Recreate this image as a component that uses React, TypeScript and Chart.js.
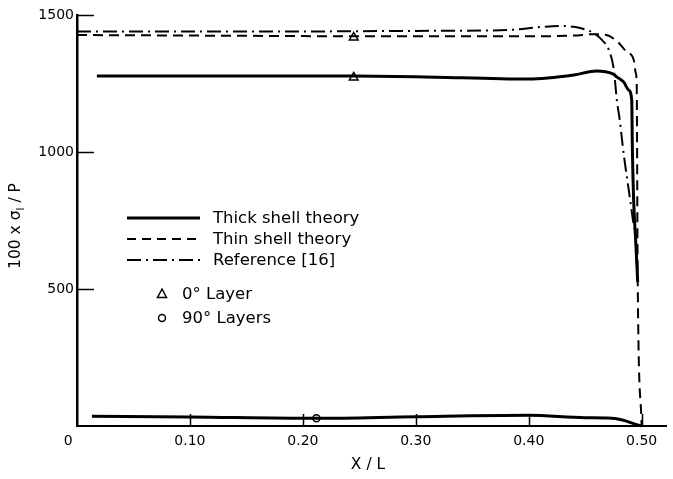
import React, { useEffect, useRef } from "react";
import { Chart, registerables } from "chart.js";

Chart.register(...registerables);

// Thick shell theory, 0° layer
const thickX = [0.0176, 0.1, 0.2, 0.245, 0.3, 0.4, 0.44, 0.46, 0.4745, 0.478, 0.4842, 0.4885, 0.4912, 0.4918, 0.4929, 0.4947, 0.4965];
const thickY = [1277, 1277, 1277, 1277, 1275, 1266, 1281, 1296, 1285, 1274, 1255, 1226, 1190, 1007, 825, 679, 526];

// Thick shell theory, 90° layers
const thick90X = [0.0132, 0.1, 0.212, 0.3, 0.4, 0.45, 0.47, 0.483, 0.494, 0.5];
const thick90Y = [36, 33, 28, 34, 39, 30, 29, 22, 7, 0];

// Thin shell theory
const thinX = [0, 0.1, 0.2, 0.3, 0.4, 0.44, 0.458, 0.468, 0.478, 0.4868, 0.493, 0.4947, 0.4956, 0.4965, 0.5];
const thinY = [1427, 1425, 1423, 1422, 1422, 1425, 1430, 1428, 1405, 1365, 1336, 1290, 1250, 533, 0];

// Reference [16]
const refX = [0, 0.1, 0.2, 0.3, 0.381, 0.41, 0.428, 0.44, 0.4516, 0.4577, 0.4648, 0.471, 0.4754, 0.478, 0.4806, 0.4842, 0.4886, 0.492, 0.4947, 0.4965];
const refY = [1440, 1440, 1440, 1442, 1445, 1456, 1460, 1457, 1445, 1434, 1409, 1372, 1299, 1190, 1117, 989, 861, 760, 679, 526];

// Layer markers
const layer0X = [0.245, 0.245];
const layer0Y = [1418, 1272];
const layer90X = [0.212];
const layer90Y = [28];

// Axis ticks
const xTicks = [0, 0.1, 0.2, 0.3, 0.4, 0.5];
const xTickLabels = ["0    ", "0.10", "0.20", "0.30", "0.40", "0.50"];
const yTicks = [500, 1000, 1500];
const yTickLabels = ["500", "1000", "1500"];

// Legend entries
const legendLines = [
  { label: "Thick shell theory", dash: [] as number[], width: 3 },
  { label: "Thin shell theory", dash: [9, 6], width: 2 },
  { label: "Reference [16]", dash: [14, 5, 2, 5], width: 2 },
];
const legendMarkers = [
  { label: "0° Layer", style: "triangle" },
  { label: "90° Layers", style: "circle" },
];

const FONT = "'DejaVu Sans', sans-serif";

const pts = (xs: number[], ys: number[]) => xs.map((x, i) => ({ x, y: ys[i] }));

const decorPlugin = {
  id: "decor",
  afterDraw(chart: any) {
    const { ctx, chartArea } = chart;
    const x = chart.scales.x;
    const y = chart.scales.y;
    ctx.save();
    ctx.strokeStyle = "#000";
    ctx.fillStyle = "#000";

    // inward tick marks
    ctx.lineWidth = 1.5;
    ctx.setLineDash([]);
    for (const v of xTicks.slice(1)) {
      const px = Math.round(x.getPixelForValue(v)) + 0.5;
      ctx.beginPath();
      ctx.moveTo(px, chartArea.bottom);
      ctx.lineTo(px, chartArea.bottom - 12);
      ctx.stroke();
    }
    for (const v of yTicks) {
      const py = Math.round(y.getPixelForValue(v)) + 0.5;
      ctx.beginPath();
      ctx.moveTo(chartArea.left, py);
      ctx.lineTo(chartArea.left + 17, py);
      ctx.stroke();
    }

    // legend
    ctx.font = `16.5px ${FONT}`;
    ctx.textBaseline = "middle";
    ctx.textAlign = "left";
    const rows = [218, 239, 260];
    legendLines.forEach((e, i) => {
      ctx.lineWidth = e.width;
      ctx.setLineDash(e.dash);
      ctx.beginPath();
      ctx.moveTo(127, rows[i]);
      ctx.lineTo(200, rows[i]);
      ctx.stroke();
      ctx.fillText(e.label, 213, rows[i] + 1);
    });
    ctx.setLineDash([]);
    const mRows = [294, 318];
    legendMarkers.forEach((m, i) => {
      const cy = mRows[i];
      ctx.lineWidth = 1.5;
      ctx.beginPath();
      if (m.style === "triangle") {
        ctx.moveTo(162, cy - 5);
        ctx.lineTo(166.5, cy + 3.5);
        ctx.lineTo(157.5, cy + 3.5);
        ctx.closePath();
      } else {
        ctx.arc(162, cy, 3.5, 0, Math.PI * 2);
      }
      ctx.stroke();
      ctx.fillText(m.label, 182, cy + 1);
    });

    // x-axis title
    ctx.font = `15.5px ${FONT}`;
    ctx.textAlign = "center";
    ctx.fillText("X / L", 368, 465);

    // y-axis title with subscript
    ctx.translate(16, 226);
    ctx.rotate(-Math.PI / 2);
    const main = `15.5px ${FONT}`;
    const sub = `10px ${FONT}`;
    const parts = [
      { t: "100 x σ", f: main, dy: 0 },
      { t: "I", f: sub, dy: 5 },
      { t: " / P", f: main, dy: 0 },
    ];
    let total = 0;
    for (const p of parts) {
      ctx.font = p.f;
      total += ctx.measureText(p.t).width;
    }
    let cx = -total / 2;
    ctx.textAlign = "left";
    for (const p of parts) {
      ctx.font = p.f;
      ctx.fillText(p.t, cx, p.dy);
      cx += ctx.measureText(p.t).width;
    }
    ctx.restore();
  },
};

export default function App() {
  const canvasRef = useRef<HTMLCanvasElement | null>(null);

  useEffect(() => {
    const canvas = canvasRef.current;
    if (!canvas) return;
    const line = (data: any, dash: number[], width: number) => ({
      type: "line" as const,
      data,
      borderColor: "#000",
      borderWidth: width,
      borderDash: dash,
      pointRadius: 0,
      fill: false,
      cubicInterpolationMode: "monotone" as const,
      clip: false as any,
    });
    const chart = new Chart(canvas, {
      type: "line",
      data: {
        datasets: [
          line(pts(refX, refY), [14, 5, 2, 5], 2),
          line(pts(thinX, thinY), [10, 6], 2),
          line(pts(thickX, thickY), [], 3),
          line(pts(thick90X, thick90Y), [], 3),
          {
            type: "scatter",
            data: pts(layer0X, layer0Y),
            pointStyle: "triangle",
            pointRadius: 5,
            pointBackgroundColor: "#fff",
            pointBorderColor: "#000",
            pointBorderWidth: 1.5,
            showLine: false,
          } as any,
          {
            type: "scatter",
            data: pts(layer90X, layer90Y),
            pointStyle: "circle",
            pointRadius: 3.5,
            pointBackgroundColor: "#fff",
            pointBorderColor: "#000",
            pointBorderWidth: 1.5,
            showLine: false,
          } as any,
        ],
      },
      options: {
        animation: false,
        responsive: false,
        maintainAspectRatio: false,
        parsing: false as any,
        layout: { padding: { top: 15, right: 3, left: 0, bottom: 0 } },
        plugins: { legend: { display: false }, tooltip: { enabled: false } },
        scales: {
          x: {
            type: "linear",
            min: 0,
            max: 0.522,
            grid: { display: false, drawTicks: false },
            border: { display: true, color: "#000", width: 2 },
            afterBuildTicks: (s: any) => {
              s.ticks = xTicks.map((v) => ({ value: v }));
            },
            afterFit: (s: any) => {
              s.height = 53;
              s.paddingLeft = 0;
              s.paddingRight = 0;
            },
            ticks: {
              color: "#000",
              padding: 7,
              maxRotation: 0,
              autoSkip: false,
              font: { family: FONT, size: 14 },
              callback: (v: any) => xTickLabels[xTicks.indexOf(Number(v))] ?? "",
            },
          },
          y: {
            type: "linear",
            min: 0,
            max: 1500,
            grid: { display: false, drawTicks: false },
            border: { display: true, color: "#000", width: 2.5 },
            afterBuildTicks: (s: any) => {
              s.ticks = yTicks.map((v) => ({ value: v }));
            },
            afterFit: (s: any) => {
              s.width = 77;
              s.paddingTop = 0;
              s.paddingBottom = 0;
            },
            ticks: {
              color: "#000",
              padding: 3,
              autoSkip: false,
              font: { family: FONT, size: 14 },
              callback: (v: any) => yTickLabels[yTicks.indexOf(Number(v))] ?? "",
            },
          },
        },
      },
      plugins: [decorPlugin],
    });
    return () => chart.destroy();
  }, []);

  return (
    <div style={{ position: "fixed", left: 0, top: 0, width: 673, height: 479, background: "#fff" }}>
      <canvas ref={canvasRef} width={673} height={479} style={{ width: 673, height: 479 }} />
    </div>
  );
}
